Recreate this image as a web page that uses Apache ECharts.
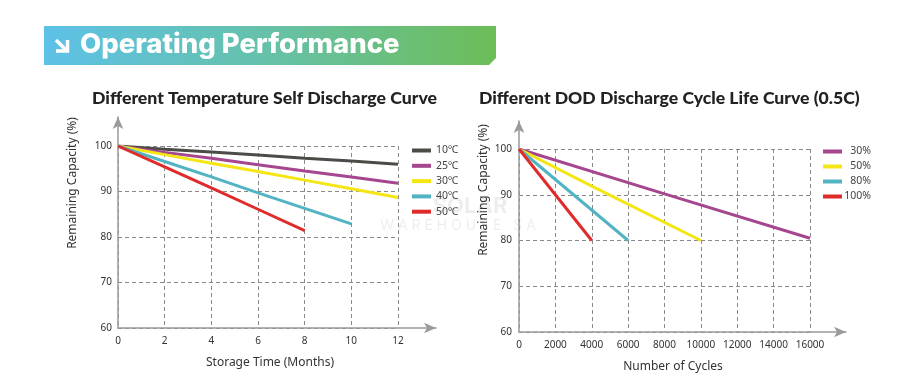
<!DOCTYPE html>
<html><head><meta charset="utf-8">
<script src="https://cdn.jsdelivr.net/npm/echarts@6/dist/echarts.min.js"></script>
<style>html,body{margin:0;padding:0;background:#fff}#c{width:900px;height:383px}</style>
</head><body><div id="c"></div>
<script>
// ---- data ----
const tempMonths = [0, 2, 4, 6, 8, 10, 12];
const tempNames = ['10℃', '25℃', '30℃', '40℃', '50℃'];
const t10 = [100, 99.3, 98.7, 98.0, 97.3, 96.7, 96.0];
const t25 = [100, 98.6, 97.3, 95.9, 94.5, 93.2, 91.8];
const t30 = [100, 98.1, 96.2, 94.4, 92.5, 90.6, 88.7];
const t40 = [100, 96.6, 93.2, 89.7, 86.3, 82.9];
const t50 = [100, 95.4, 90.8, 86.1, 81.4];
const tempColors = ['#4b4b47', '#a6468f', '#f4e515', '#52b4c3', '#e02b2b'];

const dodNames = ['30%', '50%', '80%', '100%'];
const d30x = [0, 8000, 16000], d30 = [100, 90.2, 80.5];
const d50x = [0, 4000, 10000], d50 = [100, 91.9, 80];
const d80x = [0, 6000], d80 = [100, 80];
const d100x = [0, 4000], d100 = [100, 80];
const dodColors = ['#a6468f', '#f4e515', '#52b4c3', '#e02b2b'];

const yTicks = [60, 70, 80, 90, 100];

const chart = echarts.init(document.getElementById('c'));
const zip = (xs, ys) => ys.map((v, i) => [xs[i], v]);
const tempSeries = [t10, t25, t30, t40, t50];
const dodSeries = [[d30x, d30], [d50x, d50], [d80x, d80], [d100x, d100]];

const split = {show: true, lineStyle: {color: '#8a8a8a', type: [4, 3], width: 1}};
const lbl = {color: '#333', fontSize: 10, fontFamily: 'Noto Sans', formatter: v => String(v)};
const arrowAxis = {show: true, lineStyle: {color: '#9a9a9a', width: 1.5}, symbol: ['none', 'arrow'], symbolSize: [8, 12]};
const hidden = {axisLabel: {show: false}, axisTick: {show: false}, splitLine: {show: false}};

const series = [];
tempSeries.forEach((arr, i) => series.push({
  name: tempNames[i], type: 'line', xAxisIndex: 0, yAxisIndex: 0, symbol: 'none',
  data: zip(tempMonths, arr), lineStyle: {width: 3, color: tempColors[i]}, itemStyle: {color: tempColors[i]}, z: 5
}));
dodSeries.forEach((p, i) => series.push({
  name: dodNames[i], type: 'line', xAxisIndex: 2, yAxisIndex: 2, symbol: 'none',
  data: zip(p[0], p[1]), lineStyle: {width: 3, color: dodColors[i]}, itemStyle: {color: dodColors[i]}, z: 5
}));

chart.setOption({
  animation: false,
  grid: [
    {left: 118, top: 146, width: 280, height: 182},
    {left: 118, top: 117, width: 318, height: 211},
    {left: 519, top: 149, width: 291, height: 183},
    {left: 519, top: 121, width: 327, height: 211}
  ],
  xAxis: [
    {type: 'value', gridIndex: 0, min: 0, max: 12, interval: 2, axisLine: {show: false}, axisTick: {show: false}, splitLine: split, axisLabel: Object.assign({margin: 8}, lbl)},
    Object.assign({type: 'value', gridIndex: 1, min: 0, max: 1, axisLine: arrowAxis}, hidden),
    {type: 'value', gridIndex: 2, min: 0, max: 16000, interval: 2000, axisLine: {show: false}, axisTick: {show: false}, splitLine: split, axisLabel: Object.assign({margin: 8}, lbl)},
    Object.assign({type: 'value', gridIndex: 3, min: 0, max: 1, axisLine: arrowAxis}, hidden)
  ],
  yAxis: [
    {type: 'value', gridIndex: 0, min: yTicks[0], max: yTicks[yTicks.length - 1], interval: 10, axisLine: {show: false}, axisTick: {show: false}, splitLine: split, axisLabel: Object.assign({margin: 6}, lbl)},
    Object.assign({type: 'value', gridIndex: 1, min: 0, max: 1, axisLine: arrowAxis}, hidden),
    {type: 'value', gridIndex: 2, min: yTicks[0], max: yTicks[yTicks.length - 1], interval: 10, axisLine: {show: false}, axisTick: {show: false}, splitLine: split, axisLabel: Object.assign({margin: 7}, lbl)},
    Object.assign({type: 'value', gridIndex: 3, min: 0, max: 1, axisLine: arrowAxis}, hidden)
  ],
  legend: [
    {data: tempNames, left: 407, top: 140, orient: 'vertical', icon: 'rect', itemWidth: 19, itemHeight: 4, itemGap: 4.3, selectedMode: false,
      textStyle: {color: '#444', fontSize: 10.5, fontFamily: 'Noto Sans'}},
    {data: dodNames, left: 818, top: 141, orient: 'vertical', icon: 'rect', itemWidth: 19, itemHeight: 4, itemGap: 4, selectedMode: false,
      formatter: '{a|{name}}',
      textStyle: {color: '#444', fontSize: 10.5, fontFamily: 'Noto Sans', rich: {a: {width: 24, align: 'right', fontSize: 10.5, color: '#444', fontFamily: 'Noto Sans'}}}}
  ],
  series: series,
  graphic: [
    {type: 'polygon', shape: {points: [[44, 26], [496, 26], [496, 58], [489, 65], [44, 65]]},
      style: {fill: new echarts.graphic.LinearGradient(0, 0, 1, 0, [{offset: 0, color: '#5dc1e8'}, {offset: 0.5, color: '#66c1a8'}, {offset: 1, color: '#6dbd57'}])}},
    {type: 'polyline', shape: {points: [[56, 40], [67, 51]]}, style: {stroke: '#fff', lineWidth: 3.5, fill: null}},
    {type: 'polyline', shape: {points: [[56, 51], [67.5, 51], [67.5, 40]]}, style: {stroke: '#fff', lineWidth: 3.5, fill: null}},
    {type: 'text', left: 80, top: 31, style: {text: 'Operating Performance', fill: '#fff', font: '800 27.5px Inter'}},
    {type: 'text', left: 92, top: 89, style: {text: 'Different Temperature Self Discharge Curve', fill: '#222', font: '900 17.7px Lato'}},
    {type: 'text', left: 479, top: 89, style: {text: 'Different DOD Discharge Cycle Life Curve (0.5C)', fill: '#222', font: '900 17.6px Lato'}},
    {type: 'text', x: 73, y: 183, rotation: Math.PI / 2, style: {text: 'Remaining Capacity (%)', fill: '#333', font: '12px Noto Sans', align: 'center', verticalAlign: 'middle'}},
    {type: 'text', x: 484, y: 190, rotation: Math.PI / 2, style: {text: 'Remaining Capacity (%)', fill: '#333', font: '12px Noto Sans', align: 'center', verticalAlign: 'middle'}},
    {type: 'text', x: 270, y: 363, style: {text: 'Storage Time (Months)', fill: '#333', font: '12px Noto Sans', align: 'center', verticalAlign: 'middle'}},
    {type: 'text', x: 673, y: 367, style: {text: 'Number of Cycles', fill: '#333', font: '12px Noto Sans', align: 'center', verticalAlign: 'middle'}},
    {type: 'text', x: 470, y: 206, z: 1, style: {text: 'SOLAR', fill: 'rgba(0,0,0,0.07)', font: 'bold 22px Inter', align: 'center', verticalAlign: 'middle'}},
    {type: 'text', x: 458, y: 226, z: 1, style: {text: 'W A R E H O U S E   S A', fill: 'rgba(0,0,0,0.07)', font: '14px Inter', align: 'center', verticalAlign: 'middle'}}
  ]
});
</script></body></html>
